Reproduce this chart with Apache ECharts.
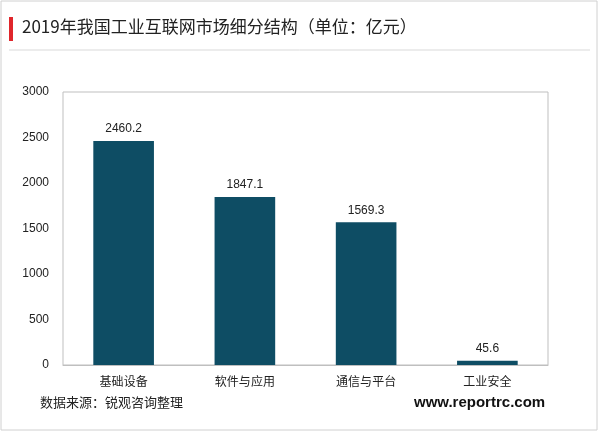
<!DOCTYPE html>
<html><head><meta charset="utf-8">
<script src="https://cdn.jsdelivr.net/npm/echarts@6/dist/echarts.min.js"></script>
<style>html,body{margin:0;padding:0;background:#fff}#c{width:600px;height:433px}</style>
</head><body><div id="c"></div>
<script>
const categories = ['基础设备','软件与应用','通信与平台','工业安全'];
const values = [2460.2, 1847.1, 1569.3, 45.6];
const yTicks = [0, 500, 1000, 1500, 2000, 2500, 3000];
const chart = echarts.init(document.getElementById('c'));
chart.setOption({
  animation:false,
  graphic:[
    {type:'rect',shape:{x:1,y:1,width:596,height:429},style:{fill:'none',stroke:'#d0d0d0',lineWidth:1}},
    {type:'rect',shape:{x:9,y:17,width:4,height:24},style:{fill:'#e0262b'}},
    {type:'text',left:22,top:18,style:{text:'2019年我国工业互联网市场细分结构（单位：亿元）',font:'17px "Noto Sans CJK SC"',fill:'#222'}},
    {type:'line',shape:{x1:9,y1:50,x2:590,y2:50},style:{stroke:'#d9d9d9',lineWidth:1}},
    {type:'text',left:40,top:396,style:{text:'数据来源：锐观咨询整理',font:'13px "Noto Sans CJK SC"',fill:'#222'}},
    {type:'text',left:414,top:395,style:{text:'www.reportrc.com',font:'bold 15px Arial, "Liberation Sans"',fill:'#111'}}
  ],
  grid:{left:63,right:52,top:92,bottom:68,show:true,borderColor:'#bfbfbf',borderWidth:1},
  xAxis:{type:'category',data:categories,axisTick:{show:false},axisLine:{lineStyle:{color:'#bfbfbf'}},
    axisLabel:{color:'#222',fontSize:12,margin:10,fontFamily:'Noto Sans CJK SC'}},
  yAxis:{type:'value',min:yTicks[0],max:yTicks[yTicks.length-1],interval:500,splitLine:{show:false},
    axisLine:{show:false},axisTick:{show:false},axisLabel:{color:'#222',fontSize:12,margin:14,formatter:v=>String(v)}},
  series:[{type:'bar',data:values,barWidth:'50%',itemStyle:{color:'#0e4d64'},
    label:{show:true,position:'top',color:'#222',fontSize:12,distance:6}}]
});
</script></body></html>
